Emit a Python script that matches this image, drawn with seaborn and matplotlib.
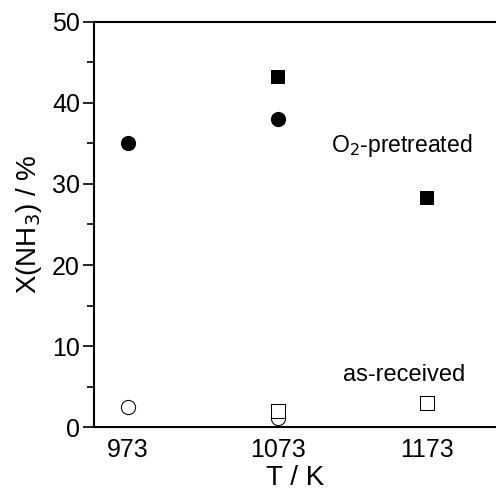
import matplotlib
matplotlib.use("Agg")
import matplotlib.pyplot as plt
import seaborn as sns
import pandas as pd
from matplotlib.ticker import MultipleLocator

sns.set_style("ticks")
plt.rcParams['font.family'] = ['Liberation Sans', 'DejaVu Sans']
plt.rcParams.update({'text.color': 'black', 'axes.labelcolor': 'black',
                     'xtick.color': 'black', 'ytick.color': 'black'})

# Data
o2_circle_T = [973, 1073]
o2_circle_X = [35.0, 38.0]
o2_square_T = [1073, 1173]
o2_square_X = [43.2, 28.3]
ar_circle_T = [973, 1073]
ar_circle_X = [2.5, 1.1]
ar_square_T = [1073, 1173]
ar_square_X = [2.0, 3.0]
xticks = [973, 1073, 1173]

fig = plt.figure(figsize=(4.96, 4.94), dpi=100)
ax = fig.add_axes([0.1895, 0.1356, 0.8105, 0.8199])

def draw(T, X, marker, filled, size):
    df = pd.DataFrame({"T": T, "X": X})
    sns.scatterplot(data=df, x="T", y="X", marker=marker, s=size,
                    color="black" if filled else "white",
                    edgecolor="black", linewidth=0 if filled else 0.75,
                    ax=ax, zorder=3, clip_on=False)

draw(o2_circle_T, o2_circle_X, "o", True, 120)
draw(o2_square_T, o2_square_X, "s", True, 92)
draw(ar_circle_T, ar_circle_X, "o", False, 105)
draw(ar_square_T, ar_square_X, "s", False, 90)

ax.set_xlim(950.3, 1219)
ax.set_ylim(0, 50)
ax.set_xticks(xticks)
ax.set_xticklabels([str(t) for t in xticks])
ax.yaxis.set_major_locator(MultipleLocator(10))
ax.yaxis.set_minor_locator(MultipleLocator(5))
ax.tick_params(axis='y', which='major', length=8, width=1.2, labelsize=18, direction='out', pad=2)
ax.tick_params(axis='y', which='minor', length=5, width=1.2, direction='out')
ax.tick_params(axis='x', which='major', length=0, labelsize=18, pad=8)

for s in ['left', 'bottom', 'top']:
    ax.spines[s].set_linewidth(1.5)
    ax.spines[s].set_color('black')
ax.spines['right'].set_visible(False)

ax.set_xlabel("T / K", fontsize=20, labelpad=2)
ax.set_ylabel("X(NH$_3$) / %", fontsize=20, labelpad=6)

ax.text(1155.7, 34.8, "O$_2$-pretreated", fontsize=16.5, ha='center', va='center')
ax.text(1157.7, 6.4, "as-received", fontsize=17, ha='center', va='center')

fig.savefig("out.png", dpi=100)
